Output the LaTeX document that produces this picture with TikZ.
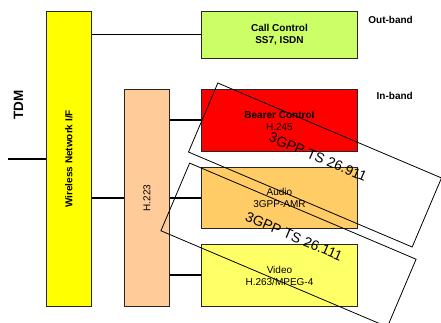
\documentclass[tikz,border=0pt]{standalone}
\usepackage{fontspec}
\setmainfont{Liberation Sans}
\definecolor{wniyellow}{HTML}{FFFF00}
\definecolor{hpeach}{HTML}{FFCC99}
\definecolor{callgreen}{HTML}{CCFF66}
\definecolor{bearerred}{HTML}{FF0000}
\definecolor{audioorange}{HTML}{FFCC66}
\definecolor{videoyellow}{HTML}{FFFF66}
\begin{document}
\begin{tikzpicture}[x=1pt,y=-1pt,
  box/.style={draw=black!85, line width=0.9pt, inner sep=0pt, anchor=north west, align=center,
              font=\fontsize{10}{12}\selectfont},
  boldlbl/.style={inner sep=0pt, font=\bfseries\fontsize{10}{12}\selectfont},
  plainlbl/.style={inner sep=0pt, font=\fontsize{10}{12}\selectfont},
  heavylink/.style={line width=2pt},
  lightlink/.style={line width=1pt},
  specbox/.style={draw=black, line width=0.8pt, inner sep=0pt, rotate=-23},
  spectext/.style={inner sep=0pt, rotate=-23, font=\fontsize{14}{16}\selectfont}]
\useasboundingbox (0,0) rectangle (441,323);
\clip (0,0) rectangle (441,323);
% boxes
\node[box, fill=wniyellow, minimum width=45pt, minimum height=295pt] (wni) at (46,11) {};
\node[box, fill=hpeach, minimum width=45pt, minimum height=217pt] (h223) at (124,89) {};
\node[box, fill=callgreen, minimum width=156pt, minimum height=47pt] (call) at (201,11)
  {\textbf{Call Control}\\\textbf{SS7, ISDN}};
\node[box, fill=bearerred, minimum width=156pt, minimum height=62pt] (bearer) at (201,89)
  {\textbf{Bearer Control}\\H.245};
\node[box, fill=audioorange, minimum width=156pt, minimum height=61pt] (audio) at (201,167)
  {Audio\\3GPP-AMR};
\node[box, fill=videoyellow, minimum width=156pt, minimum height=62pt] (video) at (201,244)
  {Video\\H.263/MPEG-4};
% rotated labels in bars
\node[boldlbl, rotate=90] (wnilbl) at (wni.center) {Wireless Network I/F};
\node[plainlbl, rotate=90] (h223lbl) at (h223.center) {H.223};
\node[inner sep=0pt, rotate=90, font=\bfseries\fontsize{13.5}{15}\selectfont] (tdm) at (18.5,105) {TDM};
\node[boldlbl, anchor=east] (outband) at (413,20) {Out-band};
\node[boldlbl, anchor=east] (inband) at (413,96) {In-band};
% connectors
\coordinate (tdmend) at (8,159);
\draw[heavylink] (tdmend) -- (tdmend -| wni.west);
\draw[lightlink] (wni.east |- call.west) -- (call.west);
\draw[heavylink] (wni.east |- h223.west) -- (h223.west);
\draw[heavylink] (h223.east |- bearer.west) -- (bearer.west);
\draw[heavylink] (h223.east |- audio.west) -- (audio.west);
\draw[heavylink] (h223.east |- video.west) -- (video.west);
% specification frames
\node[specbox, minimum width=243pt, minimum height=75pt] (ts911box) at (315,165) {};
\node[specbox, minimum width=246pt, minimum height=73.5pt] (ts111box) at (288.5,245) {};
\node[spectext] (ts911) at (318,157) {3GPP TS 26.911};
\node[spectext] (ts111) at (294,236.5) {3GPP TS 26.111};
\end{tikzpicture}
\end{document}
